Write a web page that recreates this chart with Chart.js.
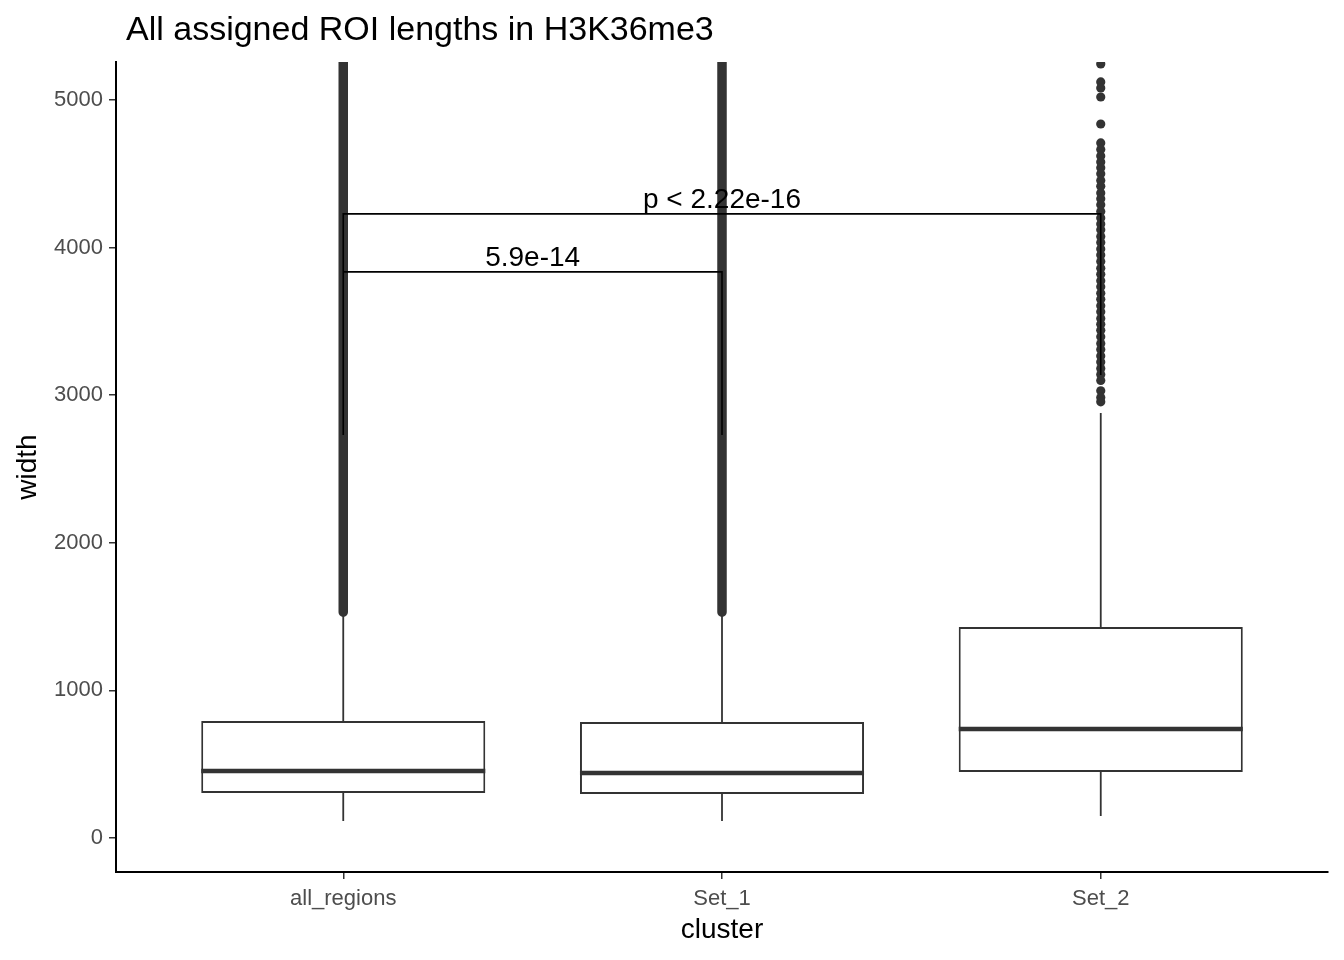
<!DOCTYPE html>
<html>
<head>
    <script src="https://cdn.jsdelivr.net/npm/chart.js@4/dist/chart.umd.min.js"></script>
    <style>
        body { margin: 0; background: #fff; }
    </style>
</head>
<body>
<canvas id="boxChart" width="1344" height="960"></canvas>

<script>
    // data
    const titleText = 'All assigned ROI lengths in H3K36me3';
    const categories = ['all_regions', 'Set_1', 'Set_2'];
    const whiskerLow = [115, 115, 149];
    const q1 = [305, 298, 447];
    const median = [454, 440, 738];
    const q3 = [793, 786, 1430];
    const whiskerHigh = [1511, 1511, 2880];
    // all_regions and Set_1 have so many outliers they merge into a solid band
    const outlierBandFrom = [1530, 1530, null];
    const outlierBandTo = [5400, 5400, null];
    const set2Outliers = [5244, 5122, 5081, 5020, 4837, 4709, 4665, 4620, 4580, 4540, 4500,
        4455, 4415, 4370, 4330, 4290, 4245, 4200, 4160, 4120, 4075, 4035, 3990, 3950, 3905,
        3860, 3820, 3775, 3735, 3690, 3650, 3605, 3565, 3520, 3480, 3440, 3395, 3350, 3310,
        3265, 3225, 3180, 3140, 3100, 3030, 2985, 2955];
    const yTicks = [0, 1000, 2000, 3000, 4000, 5000];

    // significance brackets: from group, to group, bar height, leg bottoms, label
    const bracketFrom = [1, 1];
    const bracketTo = [2, 3];
    const bracketY = [3835, 4228];
    const bracketLegLeft = [2730, 2730];
    const bracketLegRight = [2730, 3137];
    const bracketLabels = ['5.9e-14', 'p < 2.22e-16'];

    const ink = '#333333';
    const font = 'Liberation Sans, Arial, sans-serif';
    const halfBox = 0.375;

    function segments(pairs) {
        const out = [];
        pairs.forEach(p => { out.push(p[0], p[1], {x: p[0].x, y: null}); });
        return out;
    }

    const pos = categories.map((c, i) => i + 1);

    const boxData = pos.map((x, i) => ({x: x, y: [q1[i], q3[i]]}));
    const medianData = segments(pos.map((x, i) => [{x: x - halfBox, y: median[i]}, {x: x + halfBox, y: median[i]}]));
    const whiskerData = segments(pos.flatMap((x, i) => [
        [{x: x, y: q3[i]}, {x: x, y: whiskerHigh[i]}],
        [{x: x, y: q1[i]}, {x: x, y: whiskerLow[i]}]
    ]));
    const bandData = segments(pos.filter((x, i) => outlierBandFrom[i] !== null)
        .map((x) => [{x: x, y: outlierBandFrom[x - 1]}, {x: x, y: outlierBandTo[x - 1]}]));
    const set2Data = set2Outliers.map(v => ({x: 3, y: v}));
    const bracketData = [];
    bracketY.forEach((y, i) => {
        bracketData.push({x: bracketFrom[i], y: bracketLegLeft[i]}, {x: bracketFrom[i], y: y},
            {x: bracketTo[i], y: y}, {x: bracketTo[i], y: bracketLegRight[i]}, {x: bracketTo[i], y: null});
    });

    const textPlugin = {
        id: 'texts',
        afterDraw(chart) {
            const ctx = chart.ctx;
            const xs = chart.scales.x, ys = chart.scales.y;
            ctx.save();
            ctx.fillStyle = '#000';
            ctx.textBaseline = 'alphabetic';
            ctx.textAlign = 'left';
            ctx.font = '34px ' + font;
            ctx.fillText(titleText, chart.chartArea.left + 10, 40);
            ctx.font = '28px ' + font;
            ctx.textAlign = 'center';
            bracketLabels.forEach((t, i) => {
                const mx = xs.getPixelForValue((bracketFrom[i] + bracketTo[i]) / 2);
                ctx.fillText(t, mx, ys.getPixelForValue(bracketY[i]) - 6);
            });
            ctx.restore();
        }
    };

    new Chart(document.getElementById('boxChart'), {
        type: 'bar',
        data: {
            datasets: [
                {type: 'line', data: bracketData, borderColor: '#000', borderWidth: 1.6,
                    pointRadius: 0, order: 0, clip: 0},
                {type: 'line', data: medianData, borderColor: ink, borderWidth: 4.5,
                    pointRadius: 0, order: 1, borderCapStyle: 'butt'},
                {type: 'bar', data: boxData, backgroundColor: '#fff', borderColor: ink,
                    borderWidth: 2, borderSkipped: false, categoryPercentage: 1,
                    barPercentage: 0.75, order: 2},
                {type: 'line', data: whiskerData, borderColor: ink, borderWidth: 1.8,
                    pointRadius: 0, order: 3},
                {type: 'line', data: bandData, borderColor: ink, borderWidth: 9.5,
                    borderCapStyle: 'round', pointRadius: 0, order: 4, clip: 0},
                {type: 'scatter', data: set2Data, backgroundColor: ink, borderWidth: 0,
                    pointRadius: 4.6, showLine: false, order: 4, clip: 0}
            ]
        },
        options: {
            responsive: false,
            animation: false,
            devicePixelRatio: 1,
            layout: {padding: {top: 62, right: 16, left: 0, bottom: 0}},
            plugins: {legend: {display: false}, tooltip: {enabled: false}},
            scales: {
                x: {
                    type: 'linear',
                    min: 0.4,
                    max: 3.6,
                    offset: false,
                    afterBuildTicks: s => { s.ticks = pos.map(v => ({value: v})); },
                    afterFit: s => { s.height = 88; },
                    ticks: {
                        callback: v => categories[v - 1],
                        color: '#4D4D4D',
                        font: {family: font, size: 22},
                        padding: 7,
                        autoSkip: false,
                        maxRotation: 0
                    },
                    grid: {display: true, offset: false, drawOnChartArea: false, drawTicks: true,
                        tickLength: 7, color: ink, lineWidth: 1.5},
                    border: {display: true, color: '#000', width: 2},
                    title: {display: true, text: 'cluster', color: '#000',
                        font: {family: font, size: 28}, padding: {top: 0, bottom: 13}}
                },
                y: {
                    type: 'linear',
                    min: -230,
                    max: 5257,
                    afterBuildTicks: s => { s.ticks = yTicks.map(v => ({value: v})); },
                    afterFit: s => { s.width = 116; },
                    ticks: {
                        callback: v => String(v),
                        color: '#4D4D4D',
                        font: {family: font, size: 22},
                        padding: 6
                    },
                    grid: {display: true, drawOnChartArea: false, drawTicks: true, tickLength: 7,
                        color: ink, lineWidth: 1.5},
                    border: {display: true, color: '#000', width: 2},
                    title: {display: true, text: 'width', color: '#000',
                        font: {family: font, size: 28}, padding: {top: 11, bottom: 0}}
                }
            }
        },
        plugins: [textPlugin]
    });
</script>
</body>
</html>
